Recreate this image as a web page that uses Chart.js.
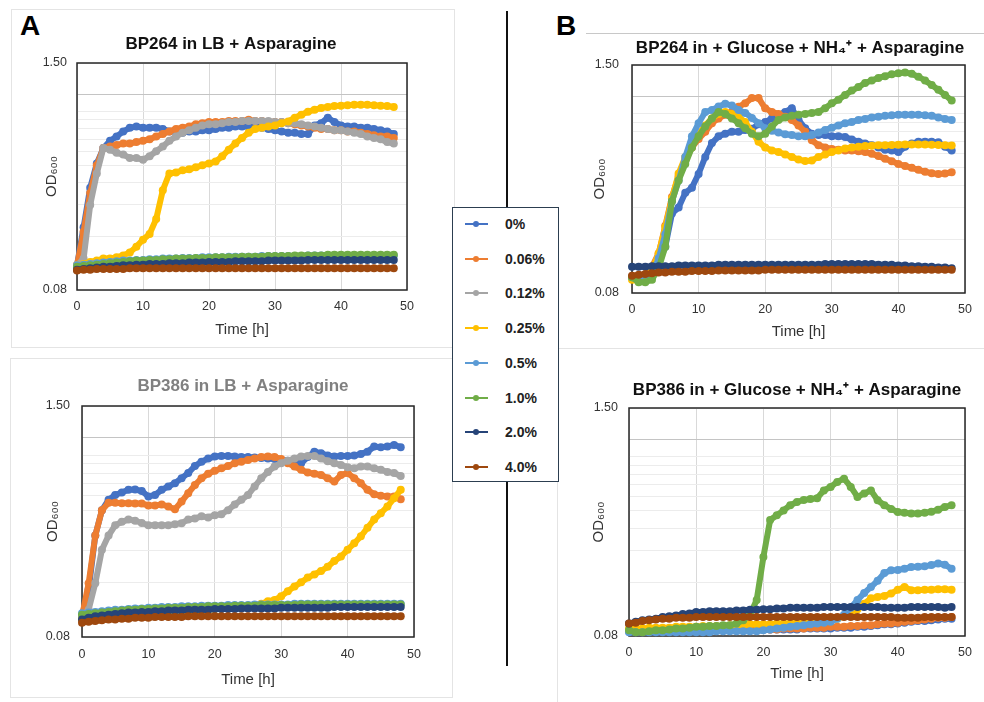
<!DOCTYPE html>
<html>
<head>
<meta charset="utf-8">
<script src="https://cdn.jsdelivr.net/npm/chart.js@4.4.1/dist/chart.umd.min.js"></script>
<style>
  body { margin:0; width:984px; height:702px; overflow:hidden; background:#fff; position:relative;
         font-family:"Liberation Sans", Arial, sans-serif; }
  .frame { position:absolute; border:1px solid #e4e4e4; box-sizing:border-box; }
  .letter { position:absolute; font-size:28px; line-height:28px; font-weight:bold; color:#000; }
  .panel { position:absolute; }
  #divider { position:absolute; left:506px; top:11px; width:2px; height:655px; background:#111; }
  #legend { position:absolute; left:452px; top:207px; width:107px; height:275px; box-sizing:border-box;
            border:1.5px solid #2c3e50; background:#fff; }
  .li { position:absolute; left:0; width:100%; height:20px; }
  .li .ln { position:absolute; left:12px; top:9px; width:23px; height:2px; }
  .li .dt { position:absolute; left:20px; top:7px; width:6px; height:6px; border-radius:50%; }
  .li .tx { position:absolute; left:52px; top:1px; font-size:14px; font-weight:bold; color:#222; line-height:18px; }
</style>
</head>
<body>
<div class="frame" style="left:11px;top:9px;width:444px;height:339px"></div>
<div class="frame" style="left:10px;top:358px;width:443px;height:340px"></div>
<div class="frame" style="left:586px;top:33px;width:420px;height:1px;border-width:1px 0 0 0;border-color:#c8c8c8"></div>
<div class="frame" style="left:557px;top:348px;width:440px;height:360px"></div>
<div id="divider"></div>
<div class="letter" style="left:20px;top:12px">A</div>
<div class="letter" style="left:556px;top:12px">B</div>

<div class="panel" style="left:31px;top:20px"><canvas id="c264lb" width="400" height="325"></canvas></div>
<div class="panel" style="left:590px;top:20px"><canvas id="c264gn" width="420" height="325"></canvas></div>
<div class="panel" style="left:31px;top:362px"><canvas id="c386lb" width="424" height="333"></canvas></div>
<div class="panel" style="left:589px;top:365px"><canvas id="c386gn" width="416" height="330"></canvas></div>

<div id="legend"></div>

<script>
// time axis (h) and y grid / labels
var hours = [0,1,2,3,4,5,6,7,8,9,10,11,12,13,14,15,16,17,18,19,20,21,22,23,24,
             25,26,27,28,29,30,31,32,33,34,35,36,37,38,39,40,41,42,43,44,45,46,47,48];
var xTicks = [0,10,20,30,40,50];
var gridValues = [0.08,0.16,0.24,0.32,0.40,0.48,0.56,0.64,0.72,0.80,1.0,1.5];
var yLabelValues = [0.08,1.5];

var seriesLabels = ['0%','0.06%','0.12%','0.25%','0.5%','1.0%','2.0%','4.0%'];
var seriesColors = ['#4472C4','#ED7D31','#A5A5A5','#FFC000','#5B9BD5','#70AD47','#264478','#9E480E'];

// BP264 in LB + Asparagine
var lb264_p0   = [0.11,0.18,0.30,0.41,0.50,0.55,0.58,0.62,0.65,0.66, 0.65,0.65,0.65,0.64,0.62,0.62,0.61,0.62,0.62,0.63, 0.63,0.64,0.65,0.65,0.66,0.66,0.66,0.66,0.65,0.64, 0.63,0.62,0.61,0.61,0.60,0.60,0.67,0.69,0.74,0.70, 0.67,0.66,0.66,0.65,0.65,0.64,0.63,0.62,0.60];
var lb264_p006 = [0.11,0.17,0.28,0.40,0.50,0.51,0.52,0.53,0.53,0.54, 0.55,0.56,0.58,0.60,0.62,0.64,0.65,0.66,0.68,0.69, 0.70,0.70,0.70,0.71,0.71,0.71,0.72,0.71,0.71,0.70, 0.70,0.70,0.69,0.68,0.67,0.66,0.65,0.64,0.64,0.63, 0.63,0.62,0.62,0.61,0.60,0.59,0.58,0.58,0.57];
var lb264_p012 = [0.11,0.12,0.24,0.36,0.50,0.49,0.47,0.46,0.44,0.44, 0.43,0.45,0.48,0.51,0.55,0.58,0.61,0.63,0.65,0.67, 0.68,0.68,0.69,0.70,0.70,0.71,0.71,0.71,0.71,0.71, 0.70,0.70,0.69,0.69,0.68,0.67,0.66,0.65,0.64,0.63, 0.63,0.62,0.61,0.60,0.58,0.57,0.56,0.54,0.53];
var lb264_p025 = [0.110,0.112,0.115,0.117,0.120,0.120,0.122,0.125,0.130,0.140, 0.153,0.165,0.20,0.29,0.36,0.365,0.375,0.38,0.39,0.40, 0.41,0.42,0.45,0.49,0.53,0.57,0.61,0.64,0.65,0.66, 0.67,0.69,0.705,0.74,0.77,0.80,0.82,0.84,0.85,0.86, 0.865,0.87,0.875,0.875,0.875,0.87,0.865,0.86,0.85];
var lb264_p05  = [0.110,0.111,0.112,0.113,0.114,0.115,0.116,0.117,0.117,0.118, 0.118,0.119,0.119,0.120,0.120,0.120,0.121,0.121,0.121,0.122, 0.122,0.122,0.122,0.123,0.123,0.123,0.123,0.123,0.124,0.124, 0.124,0.124,0.124,0.124,0.124,0.125,0.125,0.125,0.125,0.125, 0.125,0.125,0.125,0.125,0.125,0.125,0.125,0.125,0.125];
var lb264_p1   = [0.108,0.109,0.110,0.111,0.112,0.113,0.114,0.115,0.116,0.117, 0.117,0.118,0.118,0.119,0.119,0.120,0.120,0.120,0.121,0.121, 0.121,0.122,0.122,0.122,0.122,0.123,0.123,0.123,0.123,0.124, 0.124,0.124,0.124,0.125,0.125,0.125,0.125,0.125,0.126,0.126, 0.126,0.126,0.126,0.126,0.126,0.126,0.126,0.126,0.126];
var lb264_p2   = [0.104,0.105,0.106,0.107,0.108,0.108,0.109,0.110,0.110,0.111, 0.111,0.112,0.112,0.112,0.113,0.113,0.113,0.114,0.114,0.114, 0.115,0.115,0.115,0.115,0.116,0.116,0.116,0.116,0.116,0.117, 0.117,0.117,0.117,0.117,0.117,0.118,0.118,0.118,0.118,0.118, 0.118,0.118,0.118,0.118,0.118,0.118,0.118,0.118,0.118];
var lb264_p4   = [0.103,0.104,0.104,0.105,0.105,0.105,0.105,0.105,0.106,0.106, 0.106,0.106,0.106,0.106,0.106,0.106,0.106,0.106,0.106,0.106, 0.106,0.106,0.106,0.106,0.106,0.106,0.106,0.106,0.106,0.106, 0.106,0.106,0.106,0.106,0.106,0.106,0.106,0.106,0.106,0.106, 0.106,0.106,0.106,0.106,0.106,0.106,0.106,0.106,0.106];

// BP264 in + Glucose + NH4+ + Asparagine (no 0.12% series)
var gn264_p0   = [0.098,0.096,0.098,0.105,0.118,0.145,0.222,0.24,0.29,0.31, 0.37,0.46,0.55,0.60,0.62,0.635,0.635,0.65,0.66,0.70, 0.72,0.755,0.79,0.82,0.86,0.74,0.665,0.62,0.61,0.61, 0.60,0.60,0.595,0.575,0.56,0.547,0.535,0.52,0.505,0.50, 0.49,0.524,0.547,0.56,0.56,0.56,0.555,0.524,0.50];
var gn264_p006 = [0.098,0.096,0.10,0.112,0.133,0.19,0.275,0.36,0.44,0.52, 0.58,0.635,0.71,0.755,0.79,0.82,0.877,0.917,0.98,0.98, 0.86,0.82,0.80,0.77,0.74,0.69,0.635,0.57,0.535,0.52, 0.51,0.505,0.50,0.50,0.495,0.49,0.48,0.465,0.45,0.435, 0.42,0.41,0.40,0.39,0.38,0.373,0.37,0.372,0.378];
var gn264_p025 = [0.095,0.093,0.095,0.107,0.133,0.187,0.27,0.372,0.46,0.55, 0.62,0.69,0.755,0.80,0.82,0.80,0.77,0.72,0.635,0.56, 0.52,0.50,0.49,0.475,0.46,0.445,0.436,0.44,0.46,0.475, 0.49,0.50,0.513,0.52,0.525,0.53,0.532,0.535,0.535,0.537, 0.538,0.54,0.54,0.54,0.54,0.538,0.536,0.535,0.533];
var gn264_p05  = [0.098,0.094,0.095,0.10,0.125,0.17,0.26,0.34,0.46,0.60, 0.71,0.82,0.84,0.88,0.91,0.89,0.84,0.81,0.76,0.71, 0.665,0.645,0.63,0.615,0.61,0.60,0.60,0.61,0.63,0.65, 0.67,0.69,0.71,0.72,0.74,0.75,0.765,0.77,0.78,0.785, 0.79,0.79,0.79,0.79,0.785,0.78,0.765,0.75,0.74];
var gn264_p1   = [0.098,0.092,0.092,0.095,0.11,0.145,0.26,0.34,0.42,0.52, 0.60,0.68,0.755,0.82,0.80,0.755,0.71,0.665,0.62,0.60, 0.62,0.68,0.74,0.765,0.78,0.79,0.80,0.81,0.82,0.86, 0.917,0.96,1.02,1.08,1.13,1.19,1.23,1.27,1.30,1.33, 1.35,1.36,1.34,1.29,1.23,1.16,1.09,1.02,0.95];
var gn264_p2   = [0.112,0.112,0.112,0.113,0.113,0.113,0.113,0.114,0.114,0.114, 0.114,0.114,0.114,0.115,0.115,0.115,0.115,0.115,0.115,0.115, 0.115,0.115,0.115,0.115,0.115,0.115,0.115,0.115,0.115,0.116, 0.116,0.116,0.116,0.116,0.116,0.116,0.116,0.115,0.115,0.115, 0.114,0.114,0.113,0.113,0.112,0.112,0.111,0.111,0.110];
var gn264_p4   = [0.100,0.101,0.102,0.103,0.104,0.104,0.105,0.105,0.105,0.106, 0.106,0.106,0.106,0.107,0.107,0.107,0.107,0.107,0.107,0.107, 0.108,0.108,0.108,0.108,0.108,0.108,0.108,0.108,0.108,0.108, 0.108,0.108,0.108,0.108,0.108,0.108,0.108,0.108,0.108,0.108, 0.108,0.108,0.108,0.108,0.108,0.108,0.108,0.108,0.108];

// BP386 in LB + Asparagine
var lb386_p0   = [0.104,0.146,0.29,0.40,0.456,0.485,0.50,0.518,0.52,0.51, 0.476,0.485,0.518,0.54,0.563,0.60,0.64,0.70,0.74,0.77, 0.79,0.795,0.795,0.79,0.785,0.785,0.78,0.775,0.77,0.765, 0.757,0.75,0.74,0.726,0.785,0.84,0.824,0.80,0.79,0.795, 0.795,0.80,0.817,0.84,0.896,0.89,0.896,0.915,0.89];
var lb386_p006 = [0.104,0.158,0.29,0.40,0.44,0.44,0.437,0.437,0.435,0.435, 0.425,0.425,0.43,0.419,0.405,0.446,0.496,0.55,0.60,0.635, 0.66,0.68,0.70,0.726,0.74,0.757,0.77,0.785,0.79,0.785, 0.765,0.726,0.696,0.667,0.645,0.635,0.625,0.60,0.575,0.625, 0.64,0.60,0.563,0.518,0.49,0.48,0.476,0.476,0.46];
var lb386_p012 = [0.104,0.113,0.158,0.242,0.29,0.33,0.345,0.355,0.35,0.34, 0.33,0.33,0.33,0.33,0.335,0.339,0.355,0.36,0.37,0.365, 0.375,0.38,0.40,0.43,0.456,0.485,0.54,0.60,0.65,0.696, 0.726,0.75,0.77,0.79,0.795,0.795,0.77,0.745,0.726,0.71, 0.69,0.68,0.696,0.696,0.68,0.667,0.65,0.64,0.618];
var lb386_p025 = [0.100,0.100,0.101,0.101,0.102,0.102,0.103,0.103,0.104,0.104, 0.105,0.105,0.106,0.107,0.108,0.109,0.110,0.111,0.112,0.113, 0.114,0.115,0.116,0.117,0.118,0.119,0.120,0.122,0.126,0.128, 0.134,0.143,0.152,0.160,0.170,0.177,0.185,0.195,0.210,0.222, 0.242,0.263,0.287,0.320,0.355,0.385,0.419,0.466,0.518];
var lb386_p05  = [0.108,0.109,0.110,0.111,0.112,0.113,0.113,0.114,0.115,0.115, 0.116,0.116,0.117,0.117,0.117,0.118,0.118,0.118,0.119,0.119, 0.119,0.119,0.120,0.120,0.120,0.120,0.121,0.121,0.121,0.121, 0.121,0.121,0.122,0.122,0.122,0.122,0.122,0.122,0.122,0.122, 0.122,0.122,0.122,0.122,0.122,0.122,0.122,0.122,0.122];
var lb386_p1   = [0.106,0.107,0.108,0.109,0.110,0.111,0.112,0.113,0.113,0.114, 0.114,0.115,0.115,0.116,0.116,0.116,0.117,0.117,0.117,0.118, 0.118,0.118,0.118,0.119,0.119,0.119,0.119,0.120,0.120,0.120, 0.120,0.120,0.120,0.121,0.121,0.121,0.121,0.121,0.121,0.121, 0.121,0.121,0.121,0.121,0.121,0.121,0.121,0.121,0.121];
var lb386_p2   = [0.100,0.102,0.104,0.105,0.106,0.107,0.108,0.109,0.109,0.110, 0.110,0.111,0.111,0.112,0.112,0.112,0.113,0.113,0.113,0.113, 0.114,0.114,0.114,0.114,0.115,0.115,0.115,0.115,0.115,0.115, 0.116,0.116,0.116,0.116,0.116,0.116,0.116,0.116,0.117,0.117, 0.117,0.117,0.117,0.117,0.117,0.117,0.117,0.117,0.117];
var lb386_p4   = [0.096,0.097,0.098,0.099,0.100,0.100,0.101,0.101,0.102,0.102, 0.102,0.103,0.103,0.103,0.103,0.103,0.104,0.104,0.104,0.104, 0.104,0.104,0.104,0.104,0.104,0.104,0.104,0.104,0.104,0.104, 0.104,0.104,0.104,0.104,0.104,0.104,0.104,0.104,0.104,0.104, 0.104,0.104,0.104,0.104,0.104,0.104,0.104,0.104,0.104];

// BP386 in + Glucose + NH4+ + Asparagine (no 0.12% series)
var gn386_p0   = [0.085,0.085,0.085,0.085,0.085,0.085,0.085,0.085,0.086,0.086, 0.086,0.086,0.086,0.086,0.086,0.086,0.086,0.086,0.087,0.087, 0.087,0.087,0.087,0.087,0.087,0.087,0.088,0.088,0.088,0.088, 0.088,0.089,0.089,0.089,0.090,0.090,0.091,0.092,0.093,0.093, 0.094,0.095,0.096,0.097,0.097,0.098,0.099,0.100,0.100];
var gn386_p006 = [0.086,0.086,0.086,0.086,0.086,0.086,0.086,0.086,0.086,0.086, 0.086,0.086,0.086,0.086,0.086,0.087,0.087,0.087,0.087,0.087, 0.087,0.087,0.087,0.088,0.088,0.088,0.088,0.089,0.089,0.089, 0.090,0.090,0.090,0.091,0.091,0.092,0.092,0.093,0.094,0.094, 0.095,0.096,0.097,0.098,0.099,0.100,0.101,0.101,0.102];
var gn386_p025 = [0.088,0.088,0.088,0.089,0.089,0.089,0.089,0.090,0.090,0.090, 0.090,0.091,0.091,0.091,0.091,0.092,0.092,0.092,0.093,0.093, 0.093,0.093,0.094,0.094,0.094,0.095,0.095,0.095,0.096,0.097, 0.098,0.100,0.103,0.107,0.113,0.121,0.130,0.132,0.134,0.138, 0.145,0.150,0.144,0.144,0.145,0.145,0.146,0.146,0.145];
var gn386_p05  = [0.084,0.084,0.084,0.084,0.084,0.084,0.084,0.084,0.084,0.084, 0.084,0.084,0.084,0.085,0.085,0.085,0.085,0.085,0.085,0.085, 0.086,0.087,0.088,0.089,0.090,0.091,0.092,0.093,0.094,0.095, 0.096,0.100,0.105,0.115,0.127,0.139,0.150,0.163,0.180,0.186, 0.187,0.190,0.194,0.195,0.196,0.199,0.203,0.200,0.190];
var gn386_p1   = [0.086,0.084,0.084,0.085,0.086,0.086,0.087,0.088,0.088,0.089, 0.090,0.090,0.091,0.091,0.092,0.092,0.094,0.098,0.105,0.127, 0.221,0.355,0.378,0.402,0.430,0.448,0.460,0.465,0.470,0.520, 0.544,0.580,0.605,0.544,0.478,0.500,0.520,0.458,0.430,0.410, 0.394,0.390,0.386,0.386,0.390,0.395,0.406,0.420,0.430];
var gn386_p2   = [0.094,0.096,0.098,0.099,0.100,0.102,0.103,0.104,0.106,0.107, 0.109,0.109,0.110,0.110,0.110,0.110,0.111,0.111,0.112,0.112, 0.113,0.113,0.114,0.114,0.115,0.115,0.115,0.115,0.115,0.116, 0.116,0.116,0.116,0.116,0.116,0.116,0.116,0.116,0.115,0.115, 0.115,0.115,0.116,0.116,0.116,0.116,0.116,0.115,0.116];
var gn386_p4   = [0.094,0.095,0.097,0.098,0.099,0.100,0.100,0.101,0.101,0.101, 0.102,0.102,0.102,0.102,0.102,0.102,0.102,0.102,0.102,0.102, 0.102,0.102,0.102,0.102,0.102,0.102,0.102,0.102,0.102,0.102, 0.102,0.102,0.102,0.102,0.102,0.102,0.102,0.102,0.102,0.102, 0.101,0.101,0.101,0.101,0.102,0.102,0.102,0.102,0.102];

Chart.defaults.font.family = '"Liberation Sans", Arial, sans-serif';

// plot area outline
var plotFrame = {
  id: 'plotFrame',
  beforeDatasetsDraw: function(chart) {
    var a = chart.chartArea, c = chart.ctx;
    c.save();
    c.strokeStyle = '#262626';
    c.lineWidth = 1.5;
    c.strokeRect(a.left, a.top, a.right - a.left, a.bottom - a.top);
    c.restore();
  }
};

function makePanel(id, g, title, titleColor, series) {
  var datasets = [];
  series.forEach(function(vals, i) {
    if (!vals) return;
    datasets.push({
      label: seriesLabels[i],
      data: hours.map(function(h, k) { return {x: h, y: vals[k]}; }),
      borderColor: seriesColors[i],
      backgroundColor: seriesColors[i],
      borderWidth: 6,
      pointRadius: 4,
      pointBorderWidth: 0,
      tension: 0,
      clip: false,
      order: 7 - i
    });
  });

  new Chart(document.getElementById(id), {
    type: 'line',
    data: {datasets: datasets},
    options: {
      responsive: false,
      animation: false,
      events: [],
      layout: {padding: 0},
      plugins: {
        legend: {display: false},
        tooltip: {enabled: false},
        title: {
          display: true, text: title, color: titleColor,
          font: {size: 17, weight: 'bold'},
          padding: {top: g.titleY - 10.2 - g.top, bottom: g.plotTop - g.titleY - 10.2}
        }
      },
      scales: {
        x: {
          type: 'linear', min: 0, max: 50,
          afterBuildTicks: function(s) { s.ticks = xTicks.map(function(v) { return {value: v}; }); },
          ticks: {color: '#333', font: {size: 12.5}, maxRotation: 0, padding: g.tickY - g.plotBottom - 7.5},
          grid: {color: '#d9d9d9', drawTicks: false},
          border: {display: false},
          title: {display: true, text: 'Time [h]', color: '#333', font: {size: 15},
                  padding: {top: 0, bottom: g.top + g.height - g.timeY - 9}},
          afterFit: function(s) { s.height = g.top + g.height - g.plotBottom; }
        },
        y: {
          type: 'logarithmic', min: 0.08, max: 1.5,
          afterBuildTicks: function(s) { s.ticks = gridValues.map(function(v) { return {value: v}; }); },
          ticks: {
            color: '#333', font: {size: 12.5}, autoSkip: false,
            padding: g.plotLeft - g.labelRight,
            callback: function(v) {
              for (var i = 0; i < yLabelValues.length; i++) {
                if (Math.abs(v - yLabelValues[i]) < 1e-6) return yLabelValues[i].toFixed(2);
              }
              return '';
            }
          },
          grid: {
            drawTicks: false,
            color: function(ctx) { return ctx.tick && Math.abs(ctx.tick.value - 1) < 1e-6 ? '#c4c4c4' : '#ececec'; }
          },
          border: {display: false},
          title: {display: true, text: 'OD₆₀₀', color: '#333', font: {size: 15},
                  padding: {top: g.odX - g.left - 9, bottom: 0}},
          afterFit: function(s) { s.width = g.plotLeft - g.left; }
        },
        spacer: {
          position: 'right', display: true,
          grid: {display: false}, ticks: {display: false}, border: {display: false},
          afterFit: function(s) { s.width = g.left + g.width - g.plotRight; }
        }
      }
    },
    plugins: [plotFrame]
  });
}

makePanel('c264lb',
  {left: 31, width: 400, top: 20, height: 325, plotLeft: 77, plotRight: 407, plotTop: 63, plotBottom: 290,
   titleY: 44.5, odX: 52, labelRight: 67, tickY: 307, timeY: 330},
  'BP264 in LB + Asparagine', '#111',
  [lb264_p0, lb264_p006, lb264_p012, lb264_p025, lb264_p05, lb264_p1, lb264_p2, lb264_p4]);

makePanel('c264gn',
  {left: 590, width: 420, top: 20, height: 325, plotLeft: 632, plotRight: 965, plotTop: 65, plotBottom: 293,
   titleY: 48, odX: 600, labelRight: 619, tickY: 310, timeY: 331.5},
  'BP264 in + Glucose + NH₄⁺ + Asparagine', '#111',
  [gn264_p0, gn264_p006, null, gn264_p025, gn264_p05, gn264_p1, gn264_p2, gn264_p4]);

makePanel('c386lb',
  {left: 31, width: 424, top: 362, height: 333, plotLeft: 82, plotRight: 414, plotTop: 406, plotBottom: 637,
   titleY: 386.5, odX: 52.5, labelRight: 70, tickY: 655, timeY: 680},
  'BP386 in LB + Asparagine', '#808080',
  [lb386_p0, lb386_p006, lb386_p012, lb386_p025, lb386_p05, lb386_p1, lb386_p2, lb386_p4]);

makePanel('c386gn',
  {left: 589, width: 416, top: 365, height: 330, plotLeft: 629, plotRight: 965, plotTop: 408, plotBottom: 636,
   titleY: 390.5, odX: 599, labelRight: 618, tickY: 652.7, timeY: 674},
  'BP386 in + Glucose + NH₄⁺ + Asparagine', '#111',
  [gn386_p0, gn386_p006, null, gn386_p025, gn386_p05, gn386_p1, gn386_p2, gn386_p4]);

// shared legend
var legend = document.getElementById('legend');
seriesLabels.forEach(function(lab, i) {
  var row = document.createElement('div');
  row.className = 'li';
  row.style.top = (6 + i * 34.7) + 'px';
  row.innerHTML = '<div class="ln" style="background:' + seriesColors[i] + '"></div>' +
                  '<div class="dt" style="background:' + seriesColors[i] + '"></div>' +
                  '<div class="tx">' + lab + '</div>';
  legend.appendChild(row);
});
</script>
</body>
</html>
